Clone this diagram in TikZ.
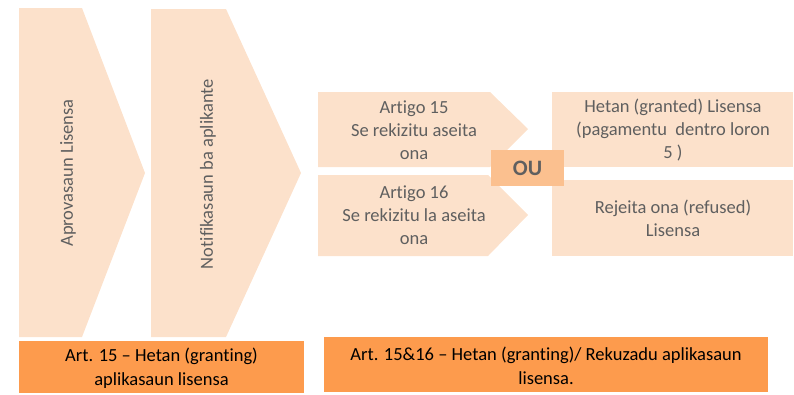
\documentclass[tikz,border=0pt]{standalone}
\usepackage{fontspec}
\setmainfont{Carlito}[RawFeature=-liga]
\usetikzlibrary{positioning}
\definecolor{peach}{HTML}{FCE1CB}
\definecolor{ouorange}{HTML}{FBC08F}
\definecolor{barorange}{HTML}{FD9B4D}
\definecolor{txtgray}{HTML}{5F5F5F}
\begin{document}
\begin{tikzpicture}[x=1pt,y=-1pt,
  shape fill/.style={fill=peach},
  step text/.style={text=txtgray,font=\fontsize{18.5}{23}\selectfont,align=center},
  bar text/.style={text=black,font=\fontsize{18.5}{24}\selectfont,align=center}]
\useasboundingbox (0,0) rectangle (794,394);
% big chevrons
\fill[shape fill] (19,8) -- (82,8) -- (145,173) -- (82,337) -- (19,337) -- cycle;
\fill[shape fill] (151,9) -- (226,9) -- (301,173) -- (226,337) -- (151,337) -- cycle;
\node[step text,rotate=90] (aprov) at (68,173) {Aprovasaun Lisensa};
\node[step text,rotate=90] (notif) at (208,174) {Notifikasaun ba aplikante};
% middle arrows
\fill[shape fill] (318,92) -- (490,92) -- (528,129) -- (490,167) -- (318,167) -- cycle;
\fill[shape fill] (318,175) -- (488,175) -- (528,215) -- (488,256) -- (318,256) -- cycle;
\node[step text] (art15) at (414,130) {Artigo 15\\Se rekizitu aseita\\ona};
\node[step text] (art16) at (414,215) {Artigo 16\\Se rekizitu la aseita\\ona};
% right boxes
\fill[shape fill] (552,92) rectangle (793,167);
\fill[shape fill] (552,180) rectangle (793,256);
\node[step text] (granted) at (673,130) {Hetan (granted) Lisensa\\(pagamentu\ \ dentro loron\\5 )};
\node[step text] (refused) at (673,218) {Rejeita ona (refused)\\Lisensa};
% OU
\fill[ouorange] (491,150) rectangle (564,186);
\node[text=txtgray,font=\fontsize{22}{24}\selectfont\bfseries] (ou) at (527.5,168) {OU};
% bottom bars
\fill[barorange] (19,341) rectangle (304,393);
\fill[barorange] (324,337) rectangle (768,392);
\node[bar text] (bar1) at (161.5,368) {Art. 15 – Hetan (granting)\\aplikasaun lisensa};
\node[bar text] (bar2) at (546,366) {Art. 15\&16 – Hetan (granting)/ Rekuzadu aplikasaun\\lisensa.};
\end{tikzpicture}
\end{document}
